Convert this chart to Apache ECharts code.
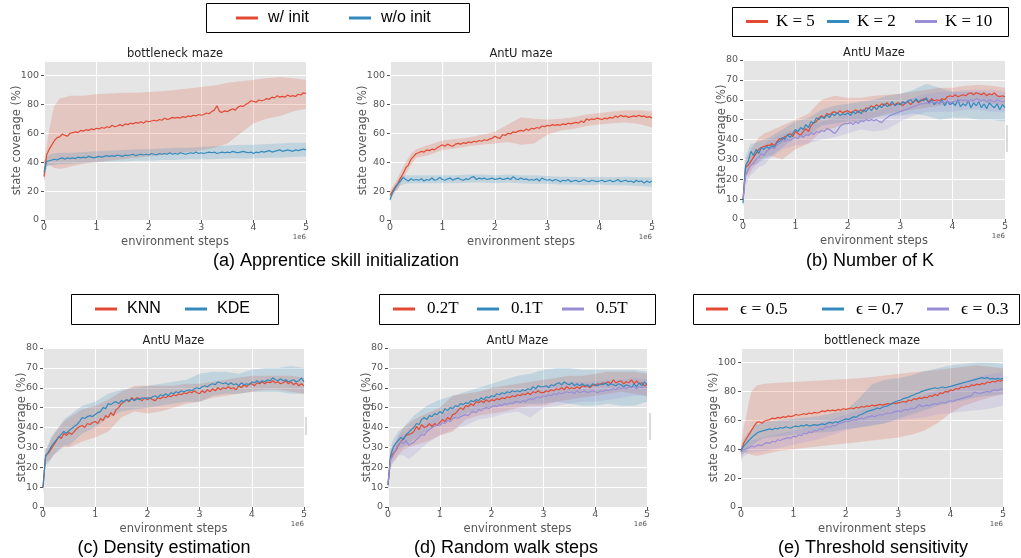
<!DOCTYPE html>
<html><head><meta charset="utf-8">
<script src="https://cdn.jsdelivr.net/npm/echarts/dist/echarts.min.js"></script>
<style>html,body{margin:0;padding:0;background:#fff}#c{width:1021px;height:558px}</style>
</head><body><div id="c"></div><script>
// ---------- sampling positions (environment steps, x 1e6) ----------
const STEPS = [0,0.05,0.1,0.15,0.2,0.25,0.3,0.35,0.4,0.45,0.5,0.55,0.6,0.65,0.7,0.75,0.8,0.85,0.9,0.95,
1,1.05,1.1,1.15,1.2,1.25,1.3,1.35,1.4,1.45,1.5,1.55,1.6,1.65,1.7,1.75,1.8,1.85,1.9,1.95,
2,2.05,2.1,2.15,2.2,2.25,2.3,2.35,2.4,2.45,2.5,2.55,2.6,2.65,2.7,2.75,2.8,2.85,2.9,2.95,
3,3.05,3.1,3.15,3.2,3.25,3.3,3.35,3.4,3.45,3.5,3.55,3.6,3.65,3.7,3.75,3.8,3.85,3.9,3.95,
4,4.05,4.1,4.15,4.2,4.25,4.3,4.35,4.4,4.45,4.5,4.55,4.6,4.65,4.7,4.75,4.8,4.85,4.9,4.95,5];
const BAND_STEPS = [0,0.05,0.1,0.15,0.2,0.3,0.4,0.5,0.75,1,1.25,1.5,1.75,2,2.25,2.5,2.75,3,3.25,3.5,3.75,4,4.25,4.5,4.75,5];
const X_TICKS = [0,1,2,3,4,5];

// ---------- (a) bottleneck maze ----------
const aBottleWith = [30,45,49,52,55,57,57.5,59.5,58.5,58,
60,60.5,61,60.5,62,61.5,62.5,62,63,62.5,
63.5,63,64,63.5,64.5,64,65.5,64.5,65,66,
65,66.5,66,67,66.5,67.5,67,68,67,68.5,
68,68.5,69,68.5,69.5,69,70.5,69.5,70,71,
70.5,71,70.5,71.5,71,72,71.5,72.5,72,73,
72.5,73,74,73.5,75,76,79,75,74.5,75.5,
75,76,77,76,78,79,78.5,80,81,82.5,
82,81.5,83,82.5,83,84,83.5,85,84.5,86,
85,85.5,85,86.5,85.5,86,85.5,87,86.5,88,
87.5];
const aBottleWithHi = [40,52,62,72,79,84,85,86,86,87,87.5,88,88,88.5,89,90,91,92,93,95,96,97,98,99,98,97];
const aBottleWithLo = [25,37,38,37,36,35.5,36,37,39,40,41,42,43,44,45,46,47,48,50,53,60,67,70,72,75,77];
const aBottleWithout = [33,40.5,41,41.5,42,41.5,42.5,43,42,43,
42.5,43,42.5,43.5,43,43.5,43,44,43.5,43,
43.5,44,43.5,44,44.5,44,44.5,44,45,44.5,
44,45,44.5,45,45.5,44.5,45,45.5,45,45.5,
45,46,45.5,45,46,45.5,46,45.5,46.5,45.5,
46,45.5,46.5,46,45.5,46,46.5,46,47,46,
46.5,46,46.5,47,46.5,47,46,46.5,47,46.5,
47,46.5,47.5,47,46.5,47,47.5,47,46.5,47,
46,47,46.5,47.5,47,47.5,48,47,47.5,48,
48.5,47.5,48,48.5,48,47.5,48.5,48,48.5,49,
48.5];
const aBottleWithoutHi = [41,44,45,46,46,46.5,46.5,46.5,47,47.5,48,48.5,49,49,49.5,50,50,50.5,51,51.5,52,52,52.5,53,53.5,53.5];
const aBottleWithoutLo = [27,37,37.5,38,38,38.5,38.5,39,39.5,40,40.5,40.5,41,41,41.5,41.5,42,42,42,42.5,42.5,42.5,43,43,43.5,44];

// ---------- (a) AntU maze ----------
const aAntWith = [17,20,23,25,29,32,36,38,42,44,
46,46.5,47.5,47,48.5,48,49,48.5,50,51,
52,51,52.5,51.5,51,52.5,53,52.5,53.5,53,
54,53.5,54.5,54,55,54.5,55.5,55,56,56.5,
58,57,56.5,59,58.5,60,59.5,61,60.5,61.5,
62,61.5,63,62,63.5,63,64,63.5,65,64.5,
65.5,65,66,65.5,66,65.5,66.5,66,67,66.5,
67,67.5,67,68.5,67.5,70,69,70,69.5,70.5,
70,69.5,70.5,70,71,70.5,72,71,72.5,71.5,
72,71,71.5,72,71.5,72.5,71.5,72,71,71.5,
70.5];
const aAntWithHi = [20,23,26,29,33,40,46,49,52,55,56,57,59,61,66,71,70,69.5,70,71,73,74,75,76,76,75];
const aAntWithLo = [15,17,20,21,25,32,38,43,45,48.5,49.5,51,52,53,54,52,53,59,62,63,65,66,67,67.5,66.5,64];
const aAntWithout = [14,19,22,25,27,29.5,28,27,28.5,27.5,
28,27.5,28.5,27,28,27.5,29,27.5,28,29.5,
28,27.5,28.5,29,27.5,28.5,29,28,27.5,28.5,
28,29.5,30,28,29,28.5,29,28,28.5,29,
28,28.5,29,28,28.5,29,28,30,28.5,28,
29,28,28.5,27.5,28,27.5,28.5,27,29,28,
27.5,28,27,28,27.5,26.5,27.5,27,28,26.5,
27,27.5,26.5,27,28,27,26.5,27.5,27,26.5,
27,27.5,26.5,27,27.5,26.5,27,28,26.5,27,
27.5,26.5,27,26,27.5,26.5,27,25.5,27,26,
27];
const aAntWithoutHi = [17,21,24,27.5,30,31,31,31,31,31,31,31.5,31.5,31,31.5,31,31,30.5,30,30,29.5,30,29.5,30,29.5,29.5];
const aAntWithoutLo = [12,17,20,22,24,25,25.5,25.5,25.5,25.5,25.5,26,26,25.5,26,25.5,25,25,24.5,24.5,24,24.5,24,24,23.5,23];

// ---------- (b) Number of K ----------
const bK5 = [10,26,27,29,31,33,35,36,36.5,37,
37,38,37,39,40.5,40,41.5,42,43,41.5,
44,43,42,44,45.5,44,47,48.5,49,51,
52,51,53,52.5,53.5,54,53,54.5,53.5,54,
54.5,53.5,54,55,53.5,55,54,56,55.5,57,
56,57.5,56.5,58,57,58.5,57,58,57.5,58.5,
58,57,58.5,59,57.5,59,60,58.5,59.5,60.5,
60,59,60.5,59.5,60,59.5,60.5,60,61.5,62,
61.5,62.5,61.5,62,62.5,62,63,63.5,62.5,63.5,
63,62.5,63.5,62,63,62.5,63.5,62,61.5,62,
61.5];
const bK5Hi = [14,30,32,35,37,41,43,44,47,50,53,60,62,61,61,62,62.5,63,64,65,66,66,67,67.5,67,66];
const bK5Lo = [7,21,22,24,26,29,31,32,30,35,38,44,46,48,49,51,53,54,55,56,57,58,58.5,59,58,57];
const bK2 = [8,27,29,34,32,35,33,36,35,36.5,
35.5,37,36,38.5,39,41,40,42.5,41,43,
45,44,46,45,47.5,46,49,48,51,50,
51.5,50.5,52.5,51,53,52,53.5,52,53,52.5,
53.5,52,54,53,54.5,53,55,54,56,54.5,
56.5,55,57,56,58,56.5,57.5,59,57,58,
57.5,59,58,59.5,60,58.5,60.5,59,60,59.5,
61,58,60,57.5,59,58,60,57,59.5,57.5,
58.5,57,60,56.5,58,57,59.5,56,58.5,57,
59,56,58,55.5,58.5,57,56,58,55,57.5,
56];
const bK2Hi = [12,32,35,38,38,39,40,41,45,49,51,55,57,58,59,60,62,63,65,68,66,64,64,64,63,62];
const bK2Lo = [5,22,23,28,27,28,30,31,36,41,42,47,48,49,49,51,52,52,53,52,50,51,51,50,50,49];
const bK10 = [10,22,25,27,28,30,31,33,32,34,
35,36,35.5,37.5,38,39.5,39,40,39.5,40.5,
41,40.5,42,41,42.5,42,43.5,42.5,44,43.5,
44.5,44,45.5,45,44,43,44.5,46.5,47.5,48,
48,48.5,47.5,49,48,49.5,49,50,49.5,50,
49.5,50,49,48.5,50,51,52,52.5,53,53.5,
54,54.5,55,55.5,56,56.5,57,57.5,58,58,
58.5,58,59,58.5,59,58,59,58.5,59.5,58.5,
59,59.5,59,60,59.5,60,59,60,59.5,60.5,
60,59.5,60,59,60,59.5,59,60,59.5,59,
59.5];
const bK10Hi = [14,27,30,32,33,36,37,40,43,45,47,49,51,53,54,54,56,59,61,63,64,64,65,65,65,64];
const bK10Lo = [6,17,20,22,23,26,27,30,35,37,38,40,41,43,45,44,45,49,52,54,54,54,55,55,54,54];

// ---------- (c) Density estimation ----------
const cKNN = [10,26,27,29,31,33,35.5,34.5,37,36,
37.5,36.5,38,39.5,40.5,41,40,42,41.5,42.5,
43,42,44.5,43.5,46,45,47.5,46,49,50,
52,53,54,53,55,54,55,54.5,53.5,55,
54,55,54,53.5,55,54.5,55.5,55,56,55.5,
56.5,56,57,56.5,57.5,57,58,57.5,58.5,57.5,
57,58.5,57.5,59,58,59.5,58.5,60,59,60,
59.5,60.5,59.5,60,59,61,60,61.5,60.5,62,
62,61,62.5,62,63,62,63,62.5,63.5,62.5,
63,62,62.5,63.5,62,63,61.5,62.5,61,62,
61];
const cKNNHi = [13,29,31,34,36,40,43,45,49,51,54,58,61,61,61,61,62,62,63,64,65,66,66,66,66,65];
const cKNNLo = [7,23,23,24,26,29,30,30,33,35,38,45,48,47,48,50,52,53,55,56,57,58,59,59,58,57];
const cKDE = [10,25.5,27.5,30,32,33.5,35,36.5,38,37,
38.5,39.5,40.5,41.5,43,45,44.5,45.5,46,45.5,
46.5,47.5,48,50,49.5,52,51.5,52.5,53,52,
53.5,53,54,53.5,54.5,53.5,54.5,54,55,54.5,
55,54.5,55.5,56,55,56.5,56,57,56,57.5,
57,58,57.5,58.5,58,58.5,59,58.5,59.5,60,
59.5,60.5,61,60.5,61.5,62,61.5,63,62.5,62,
62.5,61.5,62.5,61.5,62,61,62.5,61.5,62,61.5,
63,62.5,63.5,62.5,63.5,63,64,63.5,65,64,
63.5,64.5,63.5,64,63,63.5,64,63,63.5,65,
63];
const cKDEHi = [13,29,31,35,37,40,44,46,51,53,57,59,60,61,62,63,64,67,68,68,67,69,70,70,71,70];
const cKDELo = [6,21,22,24,26,28,31,31,37,40,45,48,49,50,51,52,53,53,56,57,57,58,58,58,57,57];

// ---------- (d) Random walk steps ----------
const d02T = [11,25,27,28.5,31,33,34.5,36,36.5,37,
38,40.5,39,41.5,40,40.5,42,40.5,42,41,
42.5,44,43,45,44,46.5,47,48.5,50,49,
51,50.5,52,51,53,52.5,53.5,52.5,54,53,
54,53.5,54.5,54,55,54.5,55.5,55,56,55.5,
56.5,56,57,56.5,57.5,56.5,58,57.5,58.5,57.5,
57.5,58.5,58,59,58.5,59.5,59,60,59,60.5,
59.5,60,59.5,60.5,59.5,61,60.5,61,60,61.5,
61,62,61.5,62.5,62,63,62,64,62.5,63,
63.5,62,63,62.5,64,62,63.5,62,62.5,61,
61.5];
const d02THi = [14,29,31,33,36,40,42,44,47,50,56,57,58,60,61,62,63,64,65,66,66,67,68,68,68,67];
const d02TLo = [8,21,23,24,26,29,30,31,33,36,38,44,46,47,48,50,51,51,53,54,55,56,57,58,57,56];
const d01T = [11,26,30,32,33.5,35,34,36.5,37.5,39,
40,42,41.5,44,45,44,46,45.5,47,46.5,
48,47,49.5,48.5,50,49.5,51,50.5,52,51.5,
52.5,52,53.5,53,54,53.5,55,54,55.5,55,
56,55.5,57,56.5,57.5,57,58,57.5,58.5,58,
58.5,58,59,58.5,59.5,59,60.5,59.5,61,60.5,
60.5,61,60,61.5,61,62,62.5,61.5,63,62,
61.5,62.5,61,62,61,62,61,61.5,60.5,62,
61.5,61,62,61.5,62.5,61,62,61.5,61,62,
61.5,60.5,61.5,61,60,62,60.5,62.5,61,63,
61.5];
const d01THi = [14,30,34,36,38,40,43,46,51,54,56,58,60,62,64,66,67,69,70,70,69,69,69,69,69,68];
const d01TLo = [8,22,25,27,29,30,32,34,38,42,44,47,49,50,51,52,52,52,53,52,51,51,52,51,51,53];
const d05T = [12,24,26,29,31.5,33,32,33.5,31,32,
32.5,34,35,36.5,36,38,39,40,40.5,41.5,
41,42.5,42,43.5,43,44.5,45,44.5,45.5,46,
46.5,46,47.5,48,47.5,49,48.5,49.5,50,49.5,
50.5,51,50.5,51.5,51,52,51.5,52.5,52,53,
53,52.5,53.5,53,54,54.5,54,55,55.5,55,
56,55.5,56.5,56,57,56.5,57.5,57,57.5,58,
57.5,58,57,58.5,57.5,58,58.5,57.5,58,58.5,
58,57.5,58.5,58,59,58.5,59,59.5,59,60,
59.5,60,59.5,60.5,60,60.5,59.5,60.5,60,60.5,
60];
const d05THi = [15,28,30,33,36,37,37,38,43,46,49,51,53,56,57,58,59,61,62,63,63,63,64,64,65,64];
const d05TLo = [8,20,22,24,26,26,24,26,32,36,39,41,44,45,47,48,45,50,51,52,53,53,54,55,56,56];

// ---------- (e) Threshold sensitivity ----------
const eEps05 = [38,44,47,50,53,56,58.5,59,58,59.5,
60,60.5,61.5,61,62,61.5,62.5,62,63,62.5,
63,64,63.5,64,64.5,64,65,64.5,65.5,65,
65.5,66.5,66,67,66.5,67,66.5,67.5,67,68,
67.5,68,68.5,68,69,68.5,69.5,69,70,69.5,
70.5,70,70.5,71,70.5,71,71.5,71,72,71.5,
72,72.5,73,72.5,74,73.5,75,74.5,75.5,75,
76,75.5,77,76.5,78,77,79,78.5,80,79.5,
81,80.5,82,81.5,83,82.5,83.5,83,84.5,84,
85,84.5,85.5,85,86.5,86,87,86.5,87.5,87,
88];
const eEps05Hi = [44,55,63,73,80,84,85,85.5,86,86.5,87,87.5,88,88.5,89,90,91,92,93,94,95,96,97,98,97,96];
const eEps05Lo = [30,38,37,37,36,35.5,36,37,39,40,41,42,43,44,45,46,47,48,50,53,58,65,70,73,76,78];
const eEps07 = [39,42,44,46,48,49.5,51,52,52.5,53,
53.5,54,53.5,54.5,54,55,54.5,55.5,55,54.5,
55.5,56,55.5,56.5,56,57,56,56.5,57,56.5,
57,57.5,57,58,58.5,58,59,58.5,59.5,60,
61,60.5,61.5,62.5,62,63.5,64,65,66,66.5,
67,67.5,68.5,68,69,69.5,70,71,72,73,
73.5,74,75,75.5,76,77,77.5,78.5,79,80,
80.5,81,81.5,82,82.5,82,82.5,83,82.5,83,
83.5,84,84.5,85,85.5,86,86.5,87,87.5,88,
88.5,89,89.5,89,89.5,88.5,89,88.5,89,88.5,
89];
const eEps07Hi = [42,47,50,52,54,57,58,59,60,61,62,63,65,67,75,85,88,89,91,94,96,98,99,100,100,99];
const eEps07Lo = [36,37,38,40,42,45,47,48,49,50,51,51.5,52,54,55,56,58,61,64,67,70,72,74,76,77,78];
const eEps03 = [38,39.5,40.5,41,42,41.5,42.5,43,42.5,44,
44.5,44,45.5,45,46.5,46,47,47.5,48,47.5,
49,48.5,50,49.5,51,50.5,52,51.5,53,52.5,
54,53.5,55,55.5,55,56.5,56,57.5,58,58.5,
59.5,59,60,60.5,60,61,61.5,61,62,62.5,
63,62.5,63.5,64,63.5,64.5,65,64.5,65.5,66,
66.5,66,67,67.5,67,68.5,68,69,71,69.5,
70,70.5,70,71,71.5,71,72,72.5,72,73,
73.5,73,74,74.5,75,75.5,76,76.5,77,79.5,
79,78.5,79,79.5,80,79.5,80.5,81,80.5,81.5,
81.5];
const eEps03Hi = [42,43,44,45,46,47,48,49,51,53,55,58,61,64,67,69,71,73,75,78,81,84,87,90,92,93];
const eEps03Lo = [34,35,36,37,37.5,38,38.5,39,41,43,45,47,50,53,55,57,58,60,61,62,64,65,66,67,68,70];

// ---------- styles ----------
const RED = '#E24A33', BLUE = '#348ABD', PURPLE = '#988ED5';
function rgba(hex, a) {
  const n = parseInt(hex.slice(1), 16);
  return 'rgba(' + (n >> 16) + ',' + ((n >> 8) & 255) + ',' + (n & 255) + ',' + a + ')';
}
const AXF = 'DejaVu Sans';

const panels = [
  {grid:{left:44,top:61,width:262,height:159}, ymax:110, yint:20, title:'bottleneck maze', lines:[
    {name:'w/ init', color:RED, mean:aBottleWith, lo:aBottleWithLo, hi:aBottleWithHi},
    {name:'w/o init', color:BLUE, mean:aBottleWithout, lo:aBottleWithoutLo, hi:aBottleWithoutHi}]},
  {grid:{left:390,top:61,width:262,height:159}, ymax:110, yint:20, title:'AntU maze', lines:[
    {name:'w/ init', color:RED, mean:aAntWith, lo:aAntWithLo, hi:aAntWithHi},
    {name:'w/o init', color:BLUE, mean:aAntWithout, lo:aAntWithoutLo, hi:aAntWithoutHi}]},
  {grid:{left:743,top:60,width:262,height:159}, ymax:80, yint:10, title:'AntU Maze', lines:[
    {name:'K = 5', color:RED, mean:bK5, lo:bK5Lo, hi:bK5Hi},
    {name:'K = 2', color:BLUE, mean:bK2, lo:bK2Lo, hi:bK2Hi},
    {name:'K = 10', color:PURPLE, mean:bK10, lo:bK10Lo, hi:bK10Hi}]},
  {grid:{left:43,top:348,width:261,height:159}, ymax:80, yint:10, title:'AntU Maze', lines:[
    {name:'KNN', color:RED, mean:cKNN, lo:cKNNLo, hi:cKNNHi},
    {name:'KDE', color:BLUE, mean:cKDE, lo:cKDELo, hi:cKDEHi}]},
  {grid:{left:388,top:348,width:259,height:159}, ymax:80, yint:10, title:'AntU Maze', lines:[
    {name:'0.2T', color:RED, mean:d02T, lo:d02TLo, hi:d02THi},
    {name:'0.1T', color:BLUE, mean:d01T, lo:d01TLo, hi:d01THi},
    {name:'0.5T', color:PURPLE, mean:d05T, lo:d05TLo, hi:d05THi}]},
  {grid:{left:741,top:348,width:262,height:159}, ymax:110, yint:20, title:'bottleneck maze', lines:[
    {name:'\u03f5 = 0.5', color:RED, mean:eEps05, lo:eEps05Lo, hi:eEps05Hi},
    {name:'\u03f5 = 0.7', color:BLUE, mean:eEps07, lo:eEps07Lo, hi:eEps07Hi},
    {name:'\u03f5 = 0.3', color:PURPLE, mean:eEps03, lo:eEps03Lo, hi:eEps03Hi}]}
];

const grids = [], xAxes = [], yAxes = [], series = [], graphics = [];
panels.forEach((p, g) => {
  grids.push(Object.assign({show:true, backgroundColor:'#E5E5E5', borderWidth:0, containLabel:false, outerBoundsMode:'none'}, p.grid));
  xAxes.push({type:'value', gridIndex:g, min:X_TICKS[0], max:X_TICKS[X_TICKS.length-1], interval:1,
    name:'environment steps', nameLocation:'middle', nameGap:16, nameMoveOverlap:false,
    nameTextStyle:{color:'#555', fontSize:11.5, fontFamily:AXF},
    axisLine:{show:false}, axisTick:{show:true, length:3, lineStyle:{color:'#555'}},
    axisLabel:{color:'#555', fontSize:9.5, fontFamily:AXF, margin:3},
    splitLine:{show:true, lineStyle:{color:'#fff', width:1}}});
  const big = p.ymax > 100;
  yAxes.push({type:'value', gridIndex:g, min:0, max:p.ymax, interval:p.yint,
    name:'state coverage (%)', nameLocation:'middle', nameGap: big ? 21 : 15, nameMoveOverlap:false,
    nameTextStyle:{color:'#555', fontSize:11.5, fontFamily:AXF},
    axisLine:{show:false}, axisTick:{show:true, length:3, lineStyle:{color:'#555'}},
    axisLabel:{color:'#555', fontSize:9.5, fontFamily:AXF, margin:5, showMaxLabel: !big},
    splitLine:{show:true, lineStyle:{color:'#fff', width:1}}});
  p.lines.forEach((s, k) => {
    const rows = BAND_STEPS.map((x, i) => [x, s.lo[i], s.hi[i]]);
    series.push({type:'custom', name:'band'+g+'_'+k, xAxisIndex:g, yAxisIndex:g, silent:true, z:1,
      data: rows, encode:{x:0, y:[1,2]},
      renderItem: function (params, api) {
        if (params.dataIndex !== 0) return null;
        const pts = [];
        rows.forEach(r => pts.push(api.coord([r[0], r[2]])));
        for (let i = rows.length - 1; i >= 0; i--) pts.push(api.coord([rows[i][0], rows[i][1]]));
        return {type:'polygon', shape:{points:pts}, style:{fill: rgba(s.color, 0.2)}, silent:true};
      }});
  });
  p.lines.forEach(s => {
    series.push({type:'line', name:s.name, xAxisIndex:g, yAxisIndex:g, z:3,
      data: STEPS.map((x, i) => [x, s.mean[i]]), symbol:'none', color:s.color,
      itemStyle:{color:s.color}, lineStyle:{color:s.color, width:1.2}});
  });
  graphics.push({type:'text', x:p.grid.left + p.grid.width/2, y:p.grid.top - 7,
    style:{text:p.title, fill:'#222', font:'11.5px "DejaVu Sans"', textAlign:'center', textVerticalAlign:'middle', align:'center', verticalAlign:'middle'}});
  graphics.push({type:'text', x:p.grid.left + p.grid.width, y:p.grid.top + p.grid.height + 17,
    style:{text:'1e6', fill:'#555', font:'7px "DejaVu Sans"', textAlign:'right', textVerticalAlign:'middle', align:'right', verticalAlign:'middle'}});
});

// legend boxes and items
const legendBoxes = [[206,3,263,29],[732,7,276,29],[71,294,207,30],[379,294,276,30],[693,294,326,30]];
legendBoxes.forEach(b => graphics.push({type:'rect', shape:{x:b[0]+0.5, y:b[1]+0.5, width:b[2], height:b[3]},
  style:{fill:'none', stroke:'#000', lineWidth:1}, z:10}));
const SANS = 'Liberation Sans', SERIF = 'Liberation Serif';
const legendItems = [
  ['w/ init',236,18,SANS,16,5],['w/o init',349,18,SANS,16,5],
  ['K = 5',746,21.5,SERIF,17,3],['K = 2',827,21.5,SERIF,17,3],['K = 10',915,21.5,SERIF,17,3],
  ['KNN',95,309,SANS,16,5],['KDE',185,309,SANS,16,5],
  ['0.2T',393,309,SERIF,17,7],['0.1T',477,309,SERIF,17,7],['0.5T',562,309,SERIF,17,7],
  ['\u03f5 = 0.5',706,309,SERIF,17.5,7],['\u03f5 = 0.7',822,309,SERIF,17.5,7],['\u03f5 = 0.3',927,309,SERIF,17.5,7]
];
const legends = legendItems.map(it => ({show:true, data:[{name:it[0], icon:'rect'}], left:it[1], top:it[2]-9,
  itemWidth:22, itemHeight:3, padding:0, selectedMode:false,
  textStyle:{fontFamily:it[3], fontSize:it[4], color:'#000', lineHeight:18, padding:[0,0,0,it[5]]}}));

// captions
const captions = [['(a) Apprentice skill initialization',336,261],['(b) Number of K',870,261],
  ['(c) Density estimation',164,548],['(d) Random walk steps',506,548],['(e) Threshold sensitivity',873,548]];
captions.forEach(c => graphics.push({type:'text', x:c[1], y:c[2],
  style:{text:c[0], fill:'#000', font:'18px "Liberation Sans"', textAlign:'center', textVerticalAlign:'middle', align:'center', verticalAlign:'middle'}}));
// faint crop artefacts at the right edges
[[1007,125,152],[306,417,435],[650,413,440]].forEach(a => graphics.push({type:'line',
  shape:{x1:a[0], y1:a[1], x2:a[0], y2:a[2]}, style:{stroke:'#cfcfcf', lineWidth:1.5}}));

const chart = echarts.init(document.getElementById('c'), null, {renderer:'canvas'});
chart.setOption({animation:false, backgroundColor:'#fff', grid:grids, xAxis:xAxes, yAxis:yAxes,
  legend:legends, series:series, graphic:{elements:graphics}});
</script></body></html>
